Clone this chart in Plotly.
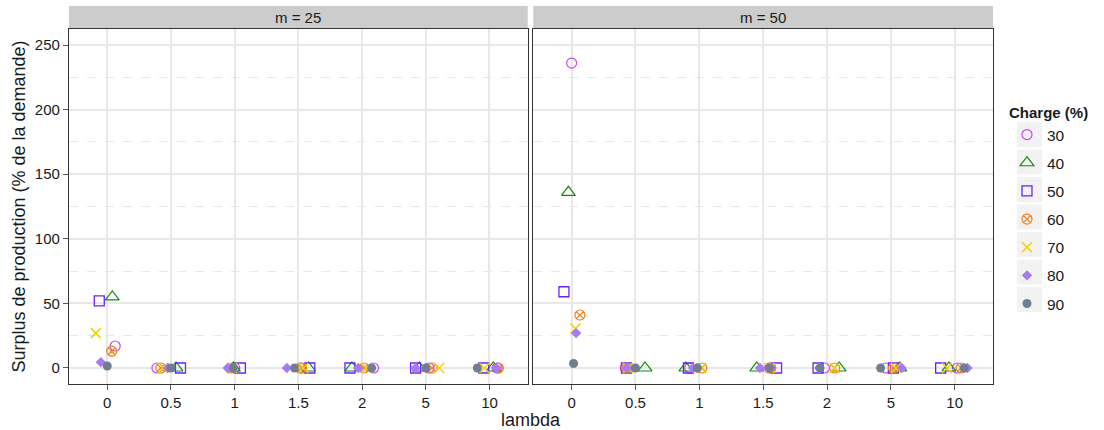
import plotly.graph_objects as go

# ---------------- data ----------------
lambdas = ["0", "0.5", "1", "1.5", "2", "5", "10"]
charges = ["30", "40", "50", "60", "70", "80", "90"]
facets = ["m = 25", "m = 50"]

# surplus values (% of demand) per charge, per lambda
surplus_m25 = {
    "30": [17, 0, 0, 0, 0, 0, 0],
    "40": [55, 0, 0, 0, 0, 0, 0],
    "50": [52, 0, 0, 0, 0, 0, 0],
    "60": [13, 0, 0, 0, 0, 0, 0],
    "70": [27, 0, 0, 0, 0, 0, 0],
    "80": [4.5, 0, 0, 0, 0, 0, 0],
    "90": [1.5, 0, 0, 0, 0, 0, 0],
}
surplus_m50 = {
    "30": [236, 0, 0, 0, 0, 0, 0],
    "40": [136, 0, 0, 0, 0, 0, 0],
    "50": [59, 0, 0, 0, 0, 0, 0],
    "60": [41, 0, 0, 0, 0, 0, 0],
    "70": [30.5, 0, 0, 0, 0, 0, 0],
    "80": [27, 0, 0, 0, 0, 0, 0],
    "90": [3.5, 0, 0, 0, 0, 0, 0],
}
# horizontal jitter (in category units)
jitter_m25 = {
    "30": [0.125, -0.22, 0.0, 0.03, 0.18, 0.05, 0.12],
    "40": [0.08, 0.08, -0.02, 0.16, -0.16, -0.10, 0.06],
    "50": [-0.125, 0.15, 0.09, 0.18, -0.19, -0.16, -0.09],
    "60": [0.07, -0.16, -0.06, 0.05, 0.03, 0.10, 0.14],
    "70": [-0.18, -0.12, -0.04, 0.08, 0.07, 0.21, -0.08],
    "80": [-0.10, -0.05, -0.11, -0.18, -0.06, -0.16, 0.11],
    "90": [0.0, 0.0, -0.02, -0.06, 0.15, 0.0, -0.19],
}
jitter_m50 = {
    "30": [0.0, -0.16, -0.15, 0.10, -0.04, -0.08, 0.04],
    "40": [-0.05, 0.15, -0.21, -0.10, 0.19, 0.14, -0.09],
    "50": [-0.12, -0.14, -0.17, 0.21, -0.14, 0.04, -0.22],
    "60": [0.13, -0.14, 0.04, 0.12, 0.12, 0.04, 0.10],
    "70": [0.06, -0.12, 0.03, 0.10, 0.12, 0.08, -0.12],
    "80": [0.07, -0.14, -0.10, -0.05, -0.12, 0.17, 0.20],
    "90": [0.03, 0.0, -0.03, 0.10, -0.11, -0.16, 0.15],
}

# ---------------- styles ----------------
styles = {
    "30": dict(symbol="circle-open", color="#C847F0", size=10, lw=1.2),
    "40": dict(symbol="triangle-up-open", color="#0C8C0C", size=12, lw=1.2),
    "50": dict(symbol="square-open", color="#6A22FF", size=10, lw=1.3),
    "60": dict(symbol="circle-x-open", color="#F07F1A", size=10, lw=1.2),
    "70": dict(symbol="x-thin-open", color="#F2D100", size=10, lw=1.5),
    "80": dict(symbol="diamond", color="#A77BF2", size=8, lw=0),
    "90": dict(symbol="circle", color="#6F7F8F", size=9, lw=0),
}

fig = go.Figure()
positions = list(range(1, len(lambdas) + 1))

for fi, (vals, jit) in enumerate([(surplus_m25, jitter_m25), (surplus_m50, jitter_m50)]):
    xa = "x" if fi == 0 else "x2"
    ya = "y" if fi == 0 else "y2"
    for c in charges:
        st = styles[c]
        xs = [p + j for p, j in zip(positions, jit[c])]
        fig.add_trace(go.Scatter(
            x=xs, y=vals[c], mode="markers", name=c,
            legendgroup=c, showlegend=(fi == 0),
            xaxis=xa, yaxis=ya,
            marker=dict(symbol=st["symbol"], color=st["color"], size=st["size"],
                        line=dict(color=st["color"], width=st["lw"])),
            hovertemplate="lambda=%{x}<br>%{y}<extra>" + c + "</extra>",
        ))

L, R, T, B = 69, 111, 29, 46
W, H = 1104, 430
pw = W - L - R
ph = H - T - B
d1 = (527.7 - L) / pw
d2 = (533.3 - L) / pw

grid = "#E8E8E8"
axis_common = dict(
    range=[0.4, 7.6], tickmode="array", tickvals=positions, ticktext=lambdas,
    showgrid=True, gridcolor=grid, gridwidth=1.5, zeroline=False,
    showline=True, linecolor="#333333", linewidth=1.3, mirror=True,
    ticks="outside", ticklen=5, tickcolor="#555555", tickwidth=1,
    tickfont=dict(size=15, color="#1a1a1a"),
)
yaxis_common = dict(
    range=[-12.4, 262.4], tickmode="array", tickvals=[0, 50, 100, 150, 200, 250],
    showgrid=True, gridcolor=grid, gridwidth=1.5, zeroline=False,
    showline=True, linecolor="#333333", linewidth=1.3, mirror=True,
    minor=dict(tickvals=[25, 75, 125, 175, 225], showgrid=True, gridcolor=grid,
               griddash="dash", gridwidth=1),
)

fig.update_layout(
    width=W, height=H,
    margin=dict(l=L, r=R, t=T, b=B),
    plot_bgcolor="white", paper_bgcolor="white",
    font=dict(family="Liberation Sans, Arial, sans-serif", color="#1a1a1a"),
    xaxis=dict(domain=[0, d1], **axis_common),
    xaxis2=dict(domain=[d2, 1], anchor="y2", **axis_common),
    yaxis=dict(domain=[0, 1], ticks="outside", ticklen=5, tickcolor="#555555",
               tickfont=dict(size=15, color="#1a1a1a"),
               title=dict(text="Surplus de production (% de la demande)",
                          font=dict(size=18, color="#1a1a1a"), standoff=4),
               **yaxis_common),
    yaxis2=dict(domain=[0, 1], anchor="x2", matches="y", showticklabels=False,
                ticks="", **yaxis_common),
    legend=dict(
        x=(1007 - L) / pw, xanchor="left", y=(H - B - 98.5) / ph, yanchor="top",
        title=dict(text="<b>Charge (%)</b>", font=dict(size=15)),
        font=dict(size=15.5), tracegroupgap=5, bgcolor="rgba(0,0,0,0)",
        itemwidth=30,
    ),
    showlegend=True,
)

# facet strips
strip_top = 1 + (T - 6) / ph
for x0, x1, label in [(0, d1, facets[0]), (d2, 1, facets[1])]:
    fig.add_shape(type="rect", xref="paper", yref="paper", x0=x0, x1=x1,
                  y0=1 + 1.0 / ph, y1=strip_top, fillcolor="#CCCCCC", line=dict(width=0),
                  layer="below")
    fig.add_annotation(x=(x0 + x1) / 2, y=(1 + strip_top) / 2, xref="paper", yref="paper",
                       text=label, showarrow=False, font=dict(size=15, color="#1a1a1a"),
                       xanchor="center", yanchor="middle")

# legend key backgrounds
for k in range(len(charges)):
    yc = 134.5 + 27.5 * k
    fig.add_shape(type="rect", xref="paper", yref="paper",
                  x0=(1017 - L) / pw, x1=(1042 - L) / pw,
                  y0=(H - B - (yc + 12.5)) / ph, y1=(H - B - (yc - 12.5)) / ph,
                  fillcolor="#F2F2F2", line=dict(width=0), layer="below")

# x axis title centered under both panels
fig.add_annotation(x=0.5, y=-(420 - (H - B)) / ph, xref="paper", yref="paper",
                   text="lambda", showarrow=False, font=dict(size=18, color="#1a1a1a"),
                   xanchor="center", yanchor="middle")

fig.write_html("out.html", config={"displayModeBar": False},
               post_script="document.body.style.margin='0';document.body.style.overflow='hidden';")
